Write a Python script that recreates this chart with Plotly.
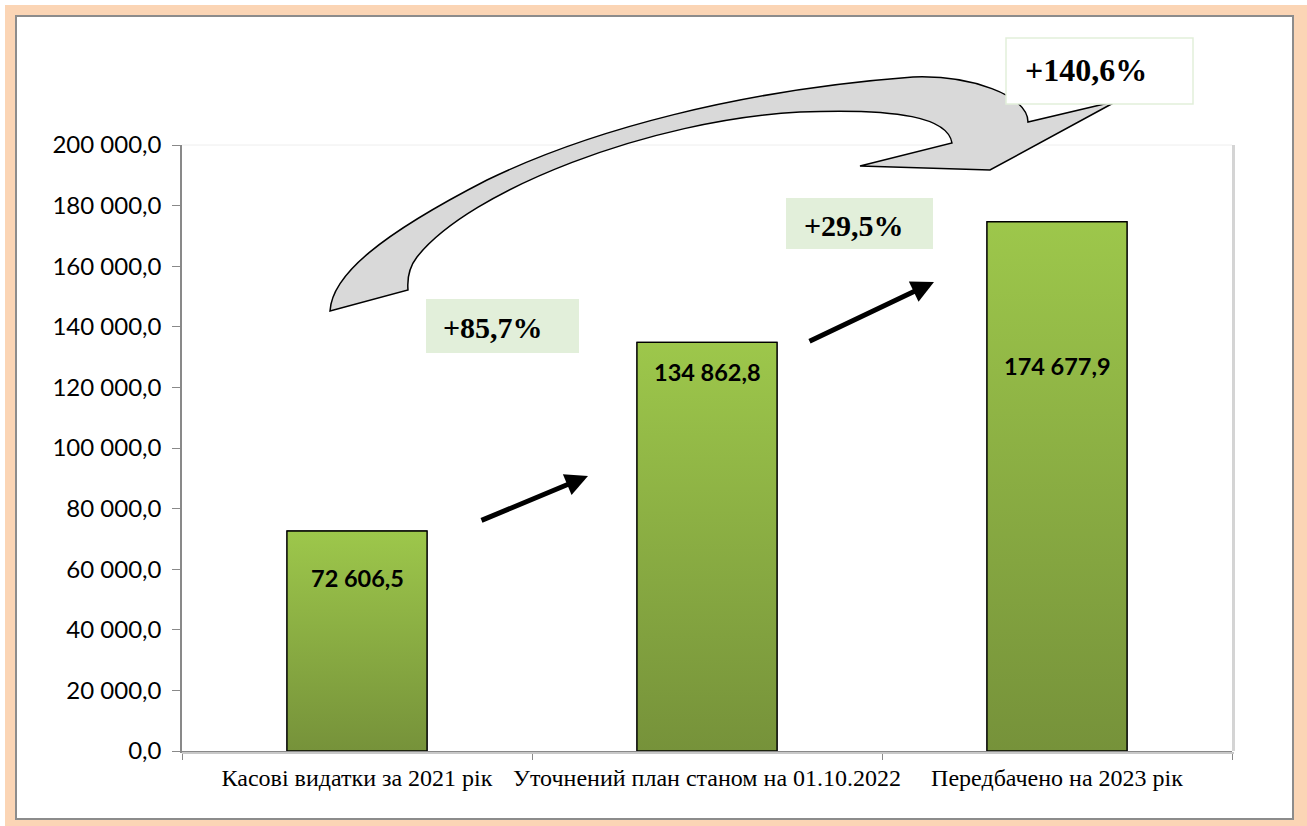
import plotly.graph_objects as go

categories = ["Касові видатки за 2021 рік", "Уточнений план станом на 01.10.2022", "Передбачено на 2023 рік"]
values = [72606.5, 134862.8, 174677.9]
value_labels = ["72 606,5", "134 862,8", "174 677,9"]
y_ticks = [0, 20000, 40000, 60000, 80000, 100000, 120000, 140000, 160000, 180000, 200000]

W, H = 1307, 826
L, R, T, B = 182, 75, 145, 75
PW, PH = W - L - R, H - T - B


def px(x):
    return (x - L) / PW


def py(y):
    return (H - B - y) / PH


def fmt_pct(a, b):
    return "+" + f"{(b / a - 1) * 100:.1f}".replace(".", ",") + "%"


pct1 = fmt_pct(values[0], values[1])
pct2 = fmt_pct(values[1], values[2])
pct3 = fmt_pct(values[0], values[2])

fig = go.Figure()
fig.add_trace(go.Bar(
    x=categories, y=values, width=0.4,
    marker=dict(color="#8AAE42", line=dict(color="black", width=1.2)),
    hoverinfo="skip", showlegend=False,
))
for i, v in enumerate(values):
    fig.add_trace(go.Scatter(
        x=[i - 0.2, i + 0.2, i + 0.2, i - 0.2, i - 0.2],
        y=[0, 0, v, v, 0],
        xaxis="x2", mode="lines", fill="toself",
        fillgradient=dict(type="vertical", start=0, stop=v,
                          colorscale=[[0, "#76923A"], [1, "#9DC74B"]]),
        line=dict(color="black", width=1.3),
        hoverinfo="skip", showlegend=False,
    ))

shapes = []
# peach frame and white inner panel
shapes.append(dict(type="rect", xref="paper", yref="paper", layer="below",
                   x0=px(5), x1=px(1310), y0=py(5), y1=py(830),
                   fillcolor="#FBD5B5", line=dict(width=0)))
shapes.append(dict(type="rect", xref="paper", yref="paper", layer="below",
                   x0=px(16), x1=px(1293), y0=py(16), y1=py(819),
                   fillcolor="white", line=dict(color="#8C8C8C", width=2)))
# plot-area edges (faint top, shadow right)
shapes.append(dict(type="line", xref="paper", yref="paper",
                   x0=0, x1=1, y0=1, y1=1, line=dict(color="#EEEEEE", width=1)))
shapes.append(dict(type="line", xref="paper", yref="paper",
                   x0=px(1233.5), x1=px(1233.5), y0=0, y1=1, line=dict(color="#D4D4D4", width=3)))
shapes.append(dict(type="line", xref="paper", yref="paper",
                   x0=0, x1=px(1234), y0=py(753), y1=py(753), line=dict(color="#C8C8C8", width=2)))


def P(x, y):
    return f"{px(x):.5f},{py(y):.5f}"


# curved arrow (pixel path converted to paper coords)
path = (
    "M" + P(330, 311)
    + " C" + P(332, 275) + " " + P(380, 235) + " " + P(487, 180)
    + " C" + P(590, 130) + " " + P(740, 90) + " " + P(913, 77)
    + " C" + P(970, 75) + " " + P(1028, 95) + " " + P(1028, 122)
    + " L" + P(1117, 101)
    + " L" + P(990, 170)
    + " L" + P(860, 166)
    + " L" + P(952, 143)
    + " C" + P(948, 118) + " " + P(900, 108) + " " + P(800, 112)
    + " C" + P(650, 120) + " " + P(470, 190) + " " + P(417, 257)
    + " C" + P(410, 266) + " " + P(407, 278) + " " + P(408, 290)
    + " Z"
)
shapes.append(dict(type="path", xref="paper", yref="paper", path=path,
                   fillcolor="#D9D9D9", line=dict(color="black", width=1.5)))

# percent boxes
shapes.append(dict(type="rect", xref="paper", yref="paper",
                   x0=px(426), x1=px(579), y0=py(299), y1=py(353),
                   fillcolor="#E2EFDA", line=dict(width=0)))
shapes.append(dict(type="rect", xref="paper", yref="paper",
                   x0=px(786), x1=px(933), y0=py(198), y1=py(249),
                   fillcolor="#E2EFDA", line=dict(width=0)))
shapes.append(dict(type="rect", xref="paper", yref="paper",
                   x0=px(1006), x1=px(1193), y0=py(38), y1=py(104),
                   fillcolor="white", line=dict(color="#E2EFDA", width=1.5)))

annotations = []
val_label_y = [578, 372, 366]
for i, (lab, yy) in enumerate(zip(value_labels, val_label_y)):
    annotations.append(dict(x=i, xref="x2", y=py(yy), yref="paper", text=f"<b>{lab}</b>",
                            xanchor="center", yanchor="middle",
                            showarrow=False, font=dict(family="Lato", size=23.5, color="black")))

pfont = dict(family="Liberation Serif", size=30, color="black")
annotations.append(dict(x=px(493), y=py(327), xref="paper", yref="paper", text=f"<b>{pct1}</b>",
                        xanchor="center", yanchor="middle", showarrow=False, font=pfont))
annotations.append(dict(x=px(854), y=py(225), xref="paper", yref="paper", text=f"<b>{pct2}</b>",
                        xanchor="center", yanchor="middle", showarrow=False, font=pfont))
annotations.append(dict(x=px(1086), y=py(70), xref="paper", yref="paper", text=f"<b>{pct3}</b>",
                        xanchor="center", yanchor="middle", showarrow=False,
                        font=dict(family="Liberation Serif", size=32, color="black")))

# straight arrows
for (x0, y0, x1, y1) in [(480, 521, 588, 476), (808, 342, 934, 282)]:
    annotations.append(dict(x=px(x1), y=py(y1), xref="paper", yref="paper",
                            ax=x0 - x1, ay=y0 - y1, axref="pixel", ayref="pixel",
                            text="", showarrow=True, arrowhead=2, arrowsize=0.9,
                            arrowwidth=5, arrowcolor="black"))

fig.update_layout(
    width=W, height=H,
    margin=dict(l=L, r=R, t=T, b=B, autoexpand=False),
    paper_bgcolor="white", plot_bgcolor="white",
    separators=", ",
    showlegend=False,
    shapes=shapes, annotations=annotations,
    xaxis=dict(range=[-0.5, 2.5], showline=True, linecolor="#898989", linewidth=1.5,
               ticks="outside", tickson="boundaries", ticklen=7, tickcolor="#898989",
               tickfont=dict(family="Liberation Serif", size=24, color="black"),
               tickangle=0, automargin=False,
               showgrid=False, fixedrange=True, ticklabelstandoff=4),
    xaxis2=dict(overlaying="x", range=[-0.5, 2.5], visible=False, fixedrange=True),
    yaxis=dict(range=[0, 200000], tickvals=y_ticks, tickformat=",.1f",
               showline=True, linecolor="#898989", linewidth=1.5,
               ticks="outside", ticklen=8, tickcolor="#898989",
               tickfont=dict(family="Lato", size=24, color="black"), automargin=False,
               showgrid=False, zeroline=False, fixedrange=True, ticklabelstandoff=6),
)

fig.write_html("out.html", config={"displayModeBar": False},
               post_script="document.body.style.margin='0';document.body.style.overflow='hidden';")
